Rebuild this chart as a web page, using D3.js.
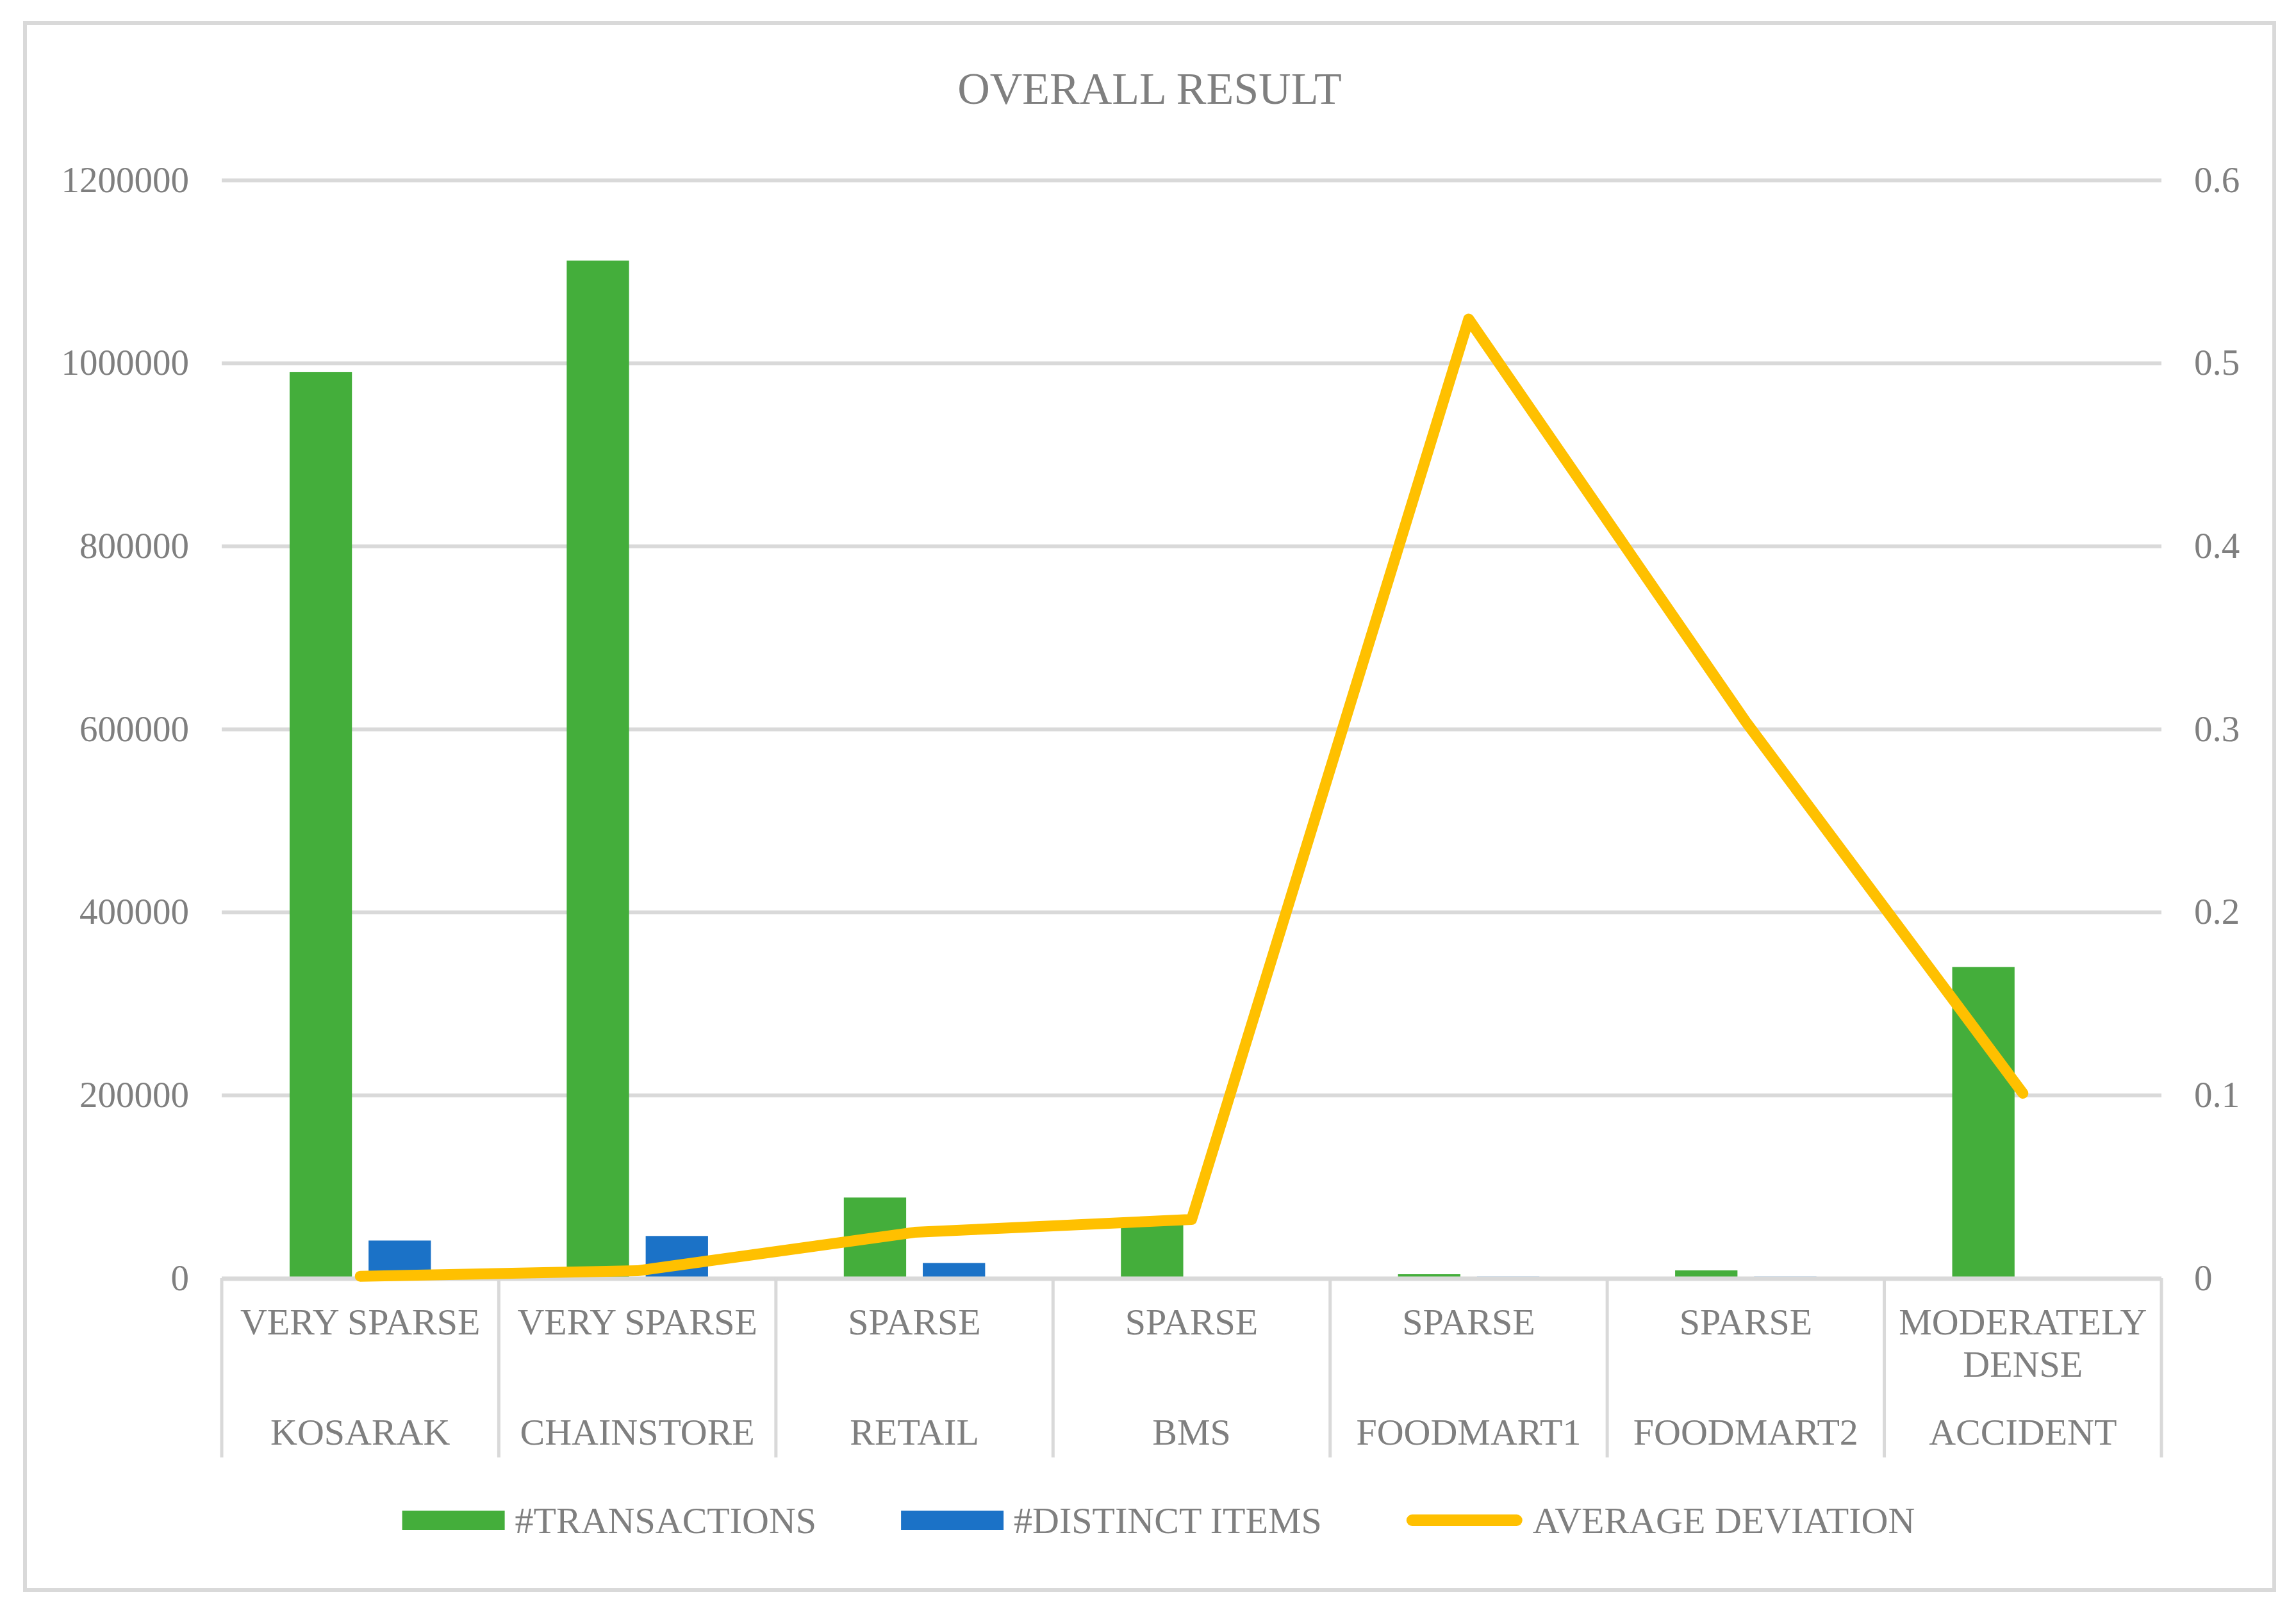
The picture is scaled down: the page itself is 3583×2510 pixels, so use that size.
<!DOCTYPE html>
<html>
<head>
<meta charset="utf-8">
<script src="https://cdn.jsdelivr.net/npm/d3@7"></script>
<style>
    body { margin: 0; background: #fff; }
    text { font-family: 'Liberation Serif', 'Times New Roman', serif; fill: #7f7f7f; }
</style>
</head>
<body>
<div id="chart"></div>
<script>

const datasets = ['KOSARAK', 'CHAINSTORE', 'RETAIL', 'BMS', 'FOODMART1', 'FOODMART2', 'ACCIDENT'];
const densities = ['VERY SPARSE', 'VERY SPARSE', 'SPARSE', 'SPARSE', 'SPARSE', 'SPARSE', 'MODERATELY|DENSE'];
const transactions = [990000, 1112000, 88000, 60000, 4200, 8400, 340000];
const distinctItems = [41000, 46000, 16500, 500, 1560, 1560, 470];
const avgDeviation = [0.001, 0.004, 0.025, 0.032, 0.524, 0.304, 0.101];
const leftTicks = [0, 200000, 400000, 600000, 800000, 1000000, 1200000];
const rightTicks = [0, 0.1, 0.2, 0.3, 0.4, 0.5, 0.6];
const seriesNames = ['#TRANSACTIONS', '#DISTINCT ITEMS', 'AVERAGE DEVIATION'];

const svgWidth = 3583;
const svgHeight = 2510;

const margin = { top: 281, left: 346, right: 210, bottom: 515 };
const width = svgWidth - margin.left - margin.right;
const height = svgHeight - margin.top - margin.bottom;

const green = '#44ae3b';
const blue = '#1b72c7';
const yellow = '#ffc000';
const gridColor = '#d9d9d9';

const svg = d3.select('#chart').append('svg')
    .attr('width', svgWidth)
    .attr('height', svgHeight);

// chart border
svg.append('rect')
    .attr('x', 39).attr('y', 36)
    .attr('width', 3510).attr('height', 2446)
    .attr('fill', '#fff')
    .attr('stroke', gridColor)
    .attr('stroke-width', 6);

svg.append('text')
    .attr('x', 1794)
    .attr('y', 162)
    .style('text-anchor', 'middle')
    .style('font-size', '70px')
    .text('OVERALL RESULT');

const chart = svg.append('g')
    .attr('transform', `translate(${margin.left},${margin.top})`);

const x = d3.scaleBand()
    .domain(datasets)
    .range([0, width]);

const y = d3.scaleLinear()
    .domain([0, 1200000])
    .range([height, 0]);

const yRight = d3.scaleLinear()
    .domain([0, 0.6])
    .range([height, 0]);

// gridlines
chart.append('g')
    .call(d3.axisLeft(y).tickValues(leftTicks.slice(1)).tickSize(-width).tickFormat(''))
    .call(g => g.select('.domain').remove())
    .call(g => g.selectAll('line').attr('stroke', gridColor).attr('stroke-width', 6));

// left axis labels
chart.append('g')
    .call(d3.axisLeft(y).tickValues(leftTicks).tickSize(0).tickPadding(51).tickFormat(d3.format('d')))
    .call(g => g.select('.domain').remove())
    .call(g => g.selectAll('text').style('font-size', '57px').attr('font-family', null).attr('fill', null));

// right axis labels
chart.append('g')
    .attr('transform', `translate(${width},0)`)
    .call(d3.axisRight(yRight).tickValues(rightTicks).tickSize(0).tickPadding(51).tickFormat(d => d === 0 ? '0' : d3.format('.1f')(d)))
    .call(g => g.select('.domain').remove())
    .call(g => g.selectAll('text').style('font-size', '57px').attr('font-family', null).attr('fill', null));

// bars
const bw = x.bandwidth() * 0.225;
const gap = x.bandwidth() * 0.06;
const offset = (x.bandwidth() - (2 * bw + gap)) / 2;

chart.append('g').selectAll('rect')
    .data(datasets)
    .join('rect')
    .attr('x', d => x(d) + offset)
    .attr('y', (d, i) => y(transactions[i]))
    .attr('width', bw)
    .attr('height', (d, i) => height - y(transactions[i]))
    .attr('fill', green);

chart.append('g').selectAll('rect')
    .data(datasets)
    .join('rect')
    .attr('x', d => x(d) + offset + bw + gap)
    .attr('y', (d, i) => y(distinctItems[i]))
    .attr('width', bw)
    .attr('height', (d, i) => height - y(distinctItems[i]))
    .attr('fill', blue);

// category axis
chart.append('line')
    .attr('x1', 0).attr('x2', width)
    .attr('y1', height + 1).attr('y2', height + 1)
    .attr('stroke', gridColor)
    .attr('stroke-width', 7);

const dividers = datasets.map(d => x(d)).concat([width]);
chart.append('g').selectAll('line')
    .data(dividers)
    .join('line')
    .attr('x1', d => d).attr('x2', d => d)
    .attr('y1', height).attr('y2', height + 280)
    .attr('stroke', gridColor)
    .attr('stroke-width', 5);

const densityText = chart.append('g').selectAll('text')
    .data(densities)
    .join('text')
    .attr('x', (d, i) => x(datasets[i]) + x.bandwidth() / 2)
    .attr('y', height + 88)
    .style('text-anchor', 'middle')
    .style('font-size', '58px');

densityText.each(function(d) {
    const t = d3.select(this);
    d.split('|').forEach((part, k) => {
        t.append('tspan')
            .attr('x', t.attr('x'))
            .attr('dy', k === 0 ? 0 : 66)
            .text(part);
    });
});

chart.append('g').selectAll('text')
    .data(datasets)
    .join('text')
    .attr('x', d => x(d) + x.bandwidth() / 2)
    .attr('y', height + 260)
    .style('text-anchor', 'middle')
    .style('font-size', '58px')
    .text(d => d);

// line series
const line = d3.line()
    .x((d, i) => x(datasets[i]) + x.bandwidth() / 2)
    .y(d => yRight(d));

chart.append('path')
    .datum(avgDeviation)
    .attr('d', line)
    .attr('fill', 'none')
    .attr('stroke', yellow)
    .attr('stroke-width', 17)
    .attr('stroke-linejoin', 'round')
    .attr('stroke-linecap', 'round');

// legend
const legend = svg.append('g');
const legendY = 2373;
const swatchW = 160;
const textGap = 16;
const itemGap = 132;

const items = seriesNames.map((name, i) => {
    const g = legend.append('g');
    if (i < 2) {
        g.append('rect')
            .attr('x', 0).attr('y', legendY - 15)
            .attr('width', swatchW).attr('height', 30)
            .attr('fill', i === 0 ? green : blue);
    } else {
        g.append('line')
            .attr('x1', 9).attr('x2', swatchW + 12)
            .attr('y1', legendY).attr('y2', legendY)
            .attr('stroke', yellow)
            .attr('stroke-width', 18)
            .attr('stroke-linecap', 'round');
    }
    const sw = i < 2 ? swatchW : swatchW + 21;
    const t = g.append('text')
        .attr('x', sw + textGap)
        .attr('y', legendY)
        .attr('dy', '0.35em')
        .style('font-size', '58px')
        .text(name);
    return { g, w: sw + textGap + t.node().getComputedTextLength() };
});

const total = d3.sum(items, d => d.w) + itemGap * (items.length - 1);
let cx = 1808 - total / 2;
items.forEach(it => {
    it.g.attr('transform', `translate(${cx},0)`);
    cx += it.w + itemGap;
});

</script>
</body>
</html>
